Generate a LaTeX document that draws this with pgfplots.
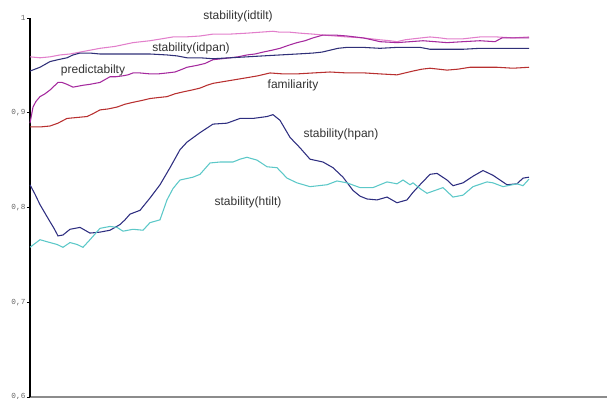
\documentclass[border=0pt]{standalone}
\usepackage{fontspec}
\setmainfont{Liberation Sans}
\setmonofont{Liberation Mono}
\usepackage{pgfplots}
\pgfplotsset{compat=1.18}
\definecolor{cidtilt}{HTML}{E27FCB}
\definecolor{cpred}{HTML}{A52A9E}
\definecolor{cidpan}{HTML}{303078}
\definecolor{cfam}{HTML}{B83030}
\definecolor{chpan}{HTML}{2E2E80}
\definecolor{chtilt}{HTML}{5CC8C8}
\definecolor{ctxt}{HTML}{333333}
\begin{document}
\begin{tikzpicture}
\begin{axis}[
  scale only axis,
  width=432.75pt, height=284.25pt,
  xmin=30, xmax=607, ymin=0.6, ymax=1,
  axis x line=bottom, axis y line=left,
  axis line style={-},
  x axis line style={draw=black!45, line width=1.3pt},
  y axis line style={draw=black, line width=1.0pt},
  xtick=\empty,
  ytick={0.6,0.7,0.8,0.9,1},
  tick align=outside,
  major tick length=2.25pt,
  ytick style={draw=black, line width=0.6pt},
  yticklabel style={font=\ttfamily\fontsize{5.8}{6}\selectfont, text=black!60, inner sep=1pt},
  /pgf/number format/.cd, use comma, fixed, precision=1, assume math mode=true,
  /pgfplots/.cd,
  clip=false,
  every axis plot/.append style={line width=0.8pt, mark=none},
]
% stability(idtilt)
\addplot[cidtilt] coordinates {(30,0.959)(40,0.958)(50,0.959)(60,0.961)(70,0.962)(80,0.964)(90,0.966)(100,0.968)(115,0.970)(133,0.974)(150,0.976)(173,0.980)(185,0.980)(200,0.981)(213,0.983)(230,0.983)(247,0.984)(260,0.985)(273,0.986)(280,0.985)(290,0.985)(300,0.984)(313,0.983)(323,0.982)(335,0.981)(347,0.980)(363,0.979)(380,0.977)(390,0.976)(397,0.975)(405,0.977)(413,0.978)(430,0.980)(440,0.979)(447,0.978)(463,0.978)(480,0.980)(497,0.980)(513,0.979)(529,0.980)};
% predictability
\addplot[cpred] coordinates {(30,0.889)(33,0.906)(36,0.912)(40,0.917)(45,0.920)(50,0.924)(54,0.928)(58,0.932)(62,0.932)(67,0.930)(73,0.927)(78,0.928)(83,0.929)(90,0.930)(100,0.932)(105,0.935)(110,0.938)(116,0.938)(123,0.939)(128,0.940)(133,0.942)(140,0.942)(150,0.941)(158,0.941)(167,0.942)(175,0.943)(180,0.945)(187,0.948)(197,0.950)(205,0.952)(213,0.956)(222,0.957)(230,0.958)(238,0.959)(247,0.961)(255,0.962)(263,0.964)(272,0.966)(280,0.968)(288,0.971)(297,0.974)(305,0.976)(313,0.979)(323,0.982)(335,0.982)(347,0.981)(355,0.980)(363,0.979)(372,0.977)(380,0.975)(397,0.974)(410,0.975)(423,0.976)(435,0.975)(447,0.974)(463,0.975)(480,0.976)(495,0.975)(502,0.979)(515,0.979)(529,0.979)};
% stability(idpan)
\addplot[cidpan] coordinates {(30,0.944)(40,0.948)(50,0.954)(58,0.956)(67,0.958)(73,0.961)(80,0.963)(90,0.963)(100,0.962)(115,0.962)(133,0.962)(150,0.962)(167,0.961)(177,0.960)(187,0.958)(200,0.958)(213,0.957)(230,0.958)(247,0.959)(263,0.960)(280,0.961)(297,0.962)(313,0.963)(322,0.964)(330,0.966)(338,0.968)(347,0.969)(363,0.969)(380,0.968)(397,0.969)(420,0.969)(430,0.967)(447,0.967)(463,0.967)(480,0.968)(500,0.968)(515,0.968)(529,0.968)};
% familiarity
\addplot[cfam] coordinates {(30,0.885)(40,0.885)(50,0.886)(58,0.889)(67,0.894)(77,0.895)(87,0.896)(93,0.899)(100,0.903)(108,0.904)(117,0.906)(125,0.909)(133,0.911)(142,0.913)(150,0.915)(158,0.916)(167,0.917)(175,0.920)(183,0.922)(192,0.924)(200,0.926)(207,0.929)(213,0.931)(230,0.934)(247,0.937)(258,0.939)(270,0.942)(283,0.941)(297,0.941)(313,0.942)(330,0.943)(347,0.942)(365,0.942)(380,0.941)(397,0.940)(405,0.942)(413,0.944)(422,0.946)(430,0.947)(447,0.945)(458,0.946)(470,0.948)(483,0.948)(497,0.948)(513,0.947)(529,0.948)};
% stability(hpan)
\addplot[chpan] coordinates {(30,0.824)(35,0.814)(40,0.803)(45,0.794)(50,0.785)(54,0.778)(58,0.770)(63,0.771)(70,0.777)(80,0.779)(85,0.776)(90,0.773)(100,0.774)(110,0.776)(120,0.782)(125,0.787)(130,0.793)(140,0.797)(150,0.810)(160,0.824)(170,0.842)(180,0.861)(187,0.869)(200,0.879)(213,0.888)(227,0.889)(240,0.894)(253,0.894)(267,0.896)(273,0.898)(280,0.892)(290,0.874)(300,0.863)(310,0.851)(323,0.848)(333,0.842)(343,0.832)(353,0.818)(360,0.812)(367,0.809)(377,0.808)(387,0.811)(397,0.805)(407,0.808)(413,0.816)(420,0.824)(430,0.835)(437,0.836)(447,0.829)(453,0.823)(463,0.826)(473,0.833)(483,0.839)(493,0.834)(500,0.829)(507,0.824)(517,0.825)(523,0.831)(529,0.832)};
% stability(htilt)
\addplot[chtilt] coordinates {(30,0.758)(35,0.762)(40,0.766)(50,0.763)(57,0.761)(63,0.758)(70,0.763)(77,0.761)(83,0.758)(90,0.766)(95,0.772)(100,0.778)(110,0.780)(117,0.779)(123,0.775)(133,0.777)(143,0.776)(150,0.784)(160,0.787)(167,0.808)(173,0.820)(180,0.829)(193,0.832)(200,0.835)(205,0.841)(210,0.847)(220,0.848)(233,0.848)(240,0.851)(247,0.853)(257,0.850)(267,0.843)(277,0.842)(287,0.831)(297,0.826)(310,0.822)(327,0.824)(337,0.828)(347,0.826)(360,0.821)(373,0.821)(387,0.827)(397,0.825)(403,0.829)(410,0.824)(413,0.826)(420,0.820)(427,0.815)(435,0.818)(443,0.821)(453,0.811)(463,0.813)(473,0.822)(487,0.827)(493,0.826)(503,0.822)(517,0.825)(523,0.823)(529,0.830)};
\begin{scope}[every node/.style={font=\fontsize{9}{11}\selectfont, text=ctxt, inner sep=0pt}]
\node at (axis cs:238,1.002) {stability(idtilt)};
\node at (axis cs:191,0.968) {stability(idpan)};
\node at (axis cs:93,0.945) {predictabilty};
\node at (axis cs:293,0.929) {familiarity};
\node at (axis cs:341,0.877) {stability(hpan)};
\node at (axis cs:248,0.805) {stability(htilt)};
\end{scope}
\end{axis}
\pgfresetboundingbox
\useasboundingbox ([xshift=-22.5pt,yshift=-1.5pt]current axis.south west) rectangle ([yshift=13.5pt]current axis.north east);
\end{tikzpicture}
\end{document}
